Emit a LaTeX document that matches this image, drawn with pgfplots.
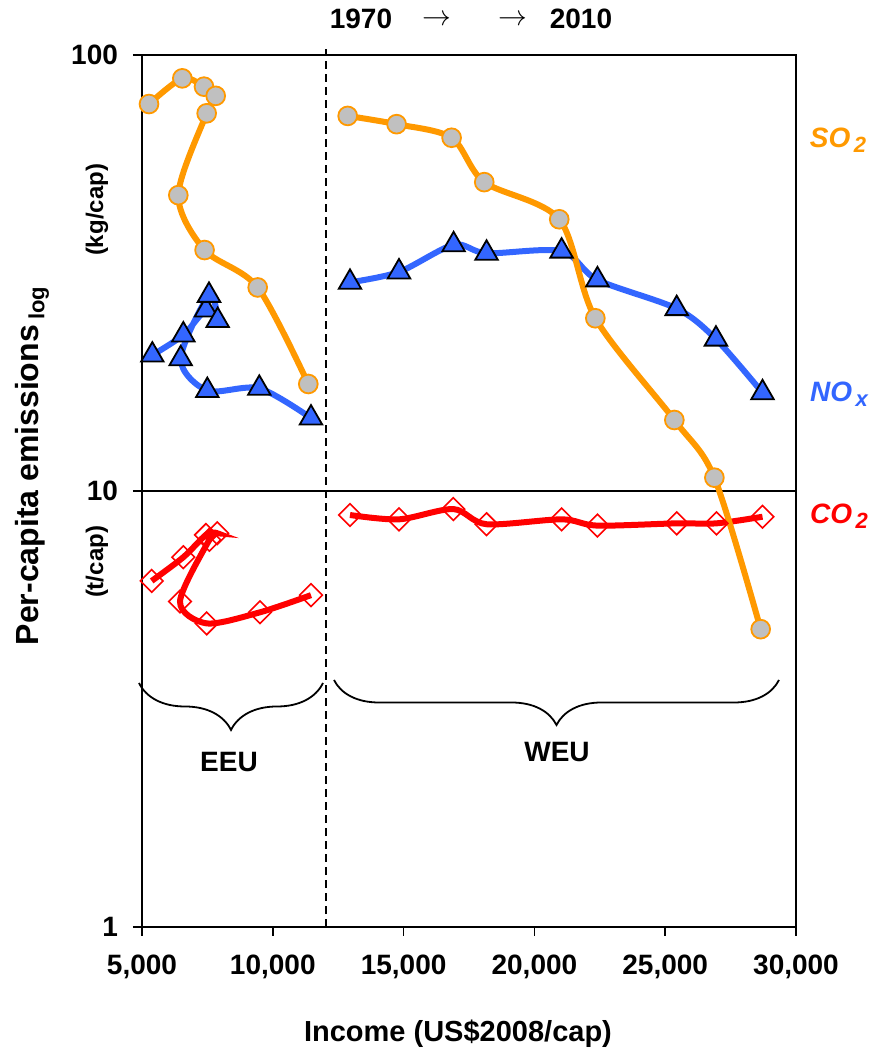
\documentclass[border=0pt]{standalone}
\usepackage{pgfplots}
\pgfplotsset{compat=1.18}
\usepackage{pgfplotstable}
\usepackage{fontspec}
\setmainfont{Liberation Sans}
\usetikzlibrary{decorations.pathreplacing}
\definecolor{so2c}{HTML}{FF9900}
\definecolor{noxc}{HTML}{3366FF}
\definecolor{co2c}{HTML}{FF0000}
\definecolor{mgray}{HTML}{C0C0C0}

\pgfplotstableread{
x y
5268 77.2
6541 88.4
7370 84.6
7817 80.6
7472 73.5
6388 47.7
7392 35.7
9422 29.3
11357 17.6
}\soeeu
\pgfplotstableread{
x y
5395 20.5
6580 22.8
7446 26.0
7893 24.6
7561 28.1
6479 20.1
7497 17.0
9484 17.2
11460 14.7
}\noeeu
\pgfplotstableread{
x y
5371 6.22
6580 7.05
7446 7.93
7878 8.00
7574 7.73
6453 5.58
7472 4.97
9511 5.27
11460 5.77
}\coeeu
\pgfplotstableread{
x y
12863 72.5
14732 69.4
16835 64.6
18083 51.1
20950 42.0
22330 24.9
25350 14.55
26880 10.73
28650 4.82
}\soweu
\pgfplotstableread{
x y
12951 30.1
14824 31.8
16912 36.7
18171 35.1
21040 35.5
22410 30.5
25440 26.2
26940 22.3
28720 16.8
}\noweu
\pgfplotstableread{
x y
12951 8.81
14824 8.61
16900 9.09
18171 8.39
21040 8.61
22410 8.33
25440 8.43
26960 8.43
28720 8.73
}\coweu

\begin{document}
\begin{tikzpicture}
\begin{axis}[
  scale only axis, width=327pt, height=436pt,
  ymode=log, xmin=5000, xmax=30000, ymin=1, ymax=100,
  scaled x ticks=false,
  xtick={5000,10000,15000,20000,25000,30000},
  xticklabels={{5,000},{10,000},{15,000},{20,000},{25,000},{30,000}},
  ytick={1,10,100}, yticklabels={1,10,100},
  yminorticks=false, xminorticks=false,
  tick pos=left, tick align=outside, major tick length=4.5pt,
  axis line style={line width=1pt}, every tick/.style={line width=0.8pt, black},
  ticklabel style={font=\fontsize{14}{16}\selectfont\bfseries},
  xticklabel style={yshift=-6pt},
  yticklabel style={xshift=-4pt},
  clip=false,
  every axis plot/.append style={line width=3pt, smooth, tension=0.5},
]
\draw[line width=1pt] (axis cs:5000,10) -- (axis cs:30000,10);
\draw[line width=1pt, dash pattern=on 4pt off 2.5pt] (axis cs:12050,1) -- ([yshift=3pt]axis cs:12050,100);

\addplot[co2c, mark=square, mark size=4pt, mark options={rotate=45, draw=co2c, line width=0.8pt, fill=none}] table {\coeeu};
\addplot[co2c, mark=square, mark size=4pt, mark options={rotate=45, draw=co2c, line width=0.8pt, fill=none}] table {\coweu};
\addplot[noxc, mark=triangle*, mark size=6.5pt, mark options={fill=noxc, draw=black, line width=0.9pt}] table {\noeeu};
\addplot[noxc, mark=triangle*, mark size=6.5pt, mark options={fill=noxc, draw=black, line width=0.9pt}] table {\noweu};
\addplot[so2c, mark=*, mark size=4.7pt, mark options={fill=mgray, draw=so2c, line width=0.9pt}] table {\soeeu};
\addplot[so2c, mark=*, mark size=4.7pt, mark options={fill=mgray, draw=so2c, line width=0.9pt}] table {\soweu};
\end{axis}

\begin{scope}[x=0.5pt, y=-0.5pt, shift={(-71pt,463.5pt)}]
\path[use as bounding box] (0,0) rectangle (879,1050);
\node[font=\fontsize{14}{16}\selectfont\bfseries, inner sep=0pt] at (361,19) {1970};
\node[font=\fontsize{14}{16}\selectfont, inner sep=0pt] at (437,20) {$\rightarrow$};
\node[font=\fontsize{14}{16}\selectfont, inner sep=0pt] at (513,20) {$\rightarrow$};
\node[font=\fontsize{14}{16}\selectfont\bfseries, inner sep=0pt] at (581,19) {2010};

\node[font=\fontsize{14.5}{16}\selectfont\bfseries] at (458,1034) {Income (US\$2008/cap)};
\node[rotate=90, font=\fontsize{16}{18}\selectfont\bfseries] at (32,466) {Per-capita emissions\,\raisebox{-3pt}{\fontsize{11}{12}\selectfont log}};
\node[rotate=90, font=\fontsize{12}{14}\selectfont\bfseries] at (97,210) {(kg/cap)};
\node[rotate=90, font=\fontsize{12}{14}\selectfont\bfseries] at (97,562) {(t/cap)};

\node[font=\fontsize{14}{16}\selectfont\bfseries\itshape, text=so2c] at (838,140) {SO\raisebox{-2.5pt}{\fontsize{11}{12}\selectfont\,2}};
\node[font=\fontsize{14}{16}\selectfont\bfseries\itshape, text=noxc] at (839,394) {NO\raisebox{-2.5pt}{\fontsize{11}{12}\selectfont\,x}};
\node[font=\fontsize{14}{16}\selectfont\bfseries\itshape, text=co2c] at (839,516) {CO\raisebox{-2.5pt}{\fontsize{11}{12}\selectfont\,2}};

\draw[decorate, decoration={brace, amplitude=23.5pt}, line width=0.9pt] (323,683) -- (139,683);
\draw[decorate, decoration={brace, amplitude=22.5pt}, line width=0.9pt] (779,680) -- (334,680);
\node[font=\fontsize{14}{16}\selectfont\bfseries] at (229,762) {EEU};
\node[font=\fontsize{14}{16}\selectfont\bfseries] at (557,752) {WEU};
\end{scope}
\end{tikzpicture}
\end{document}
